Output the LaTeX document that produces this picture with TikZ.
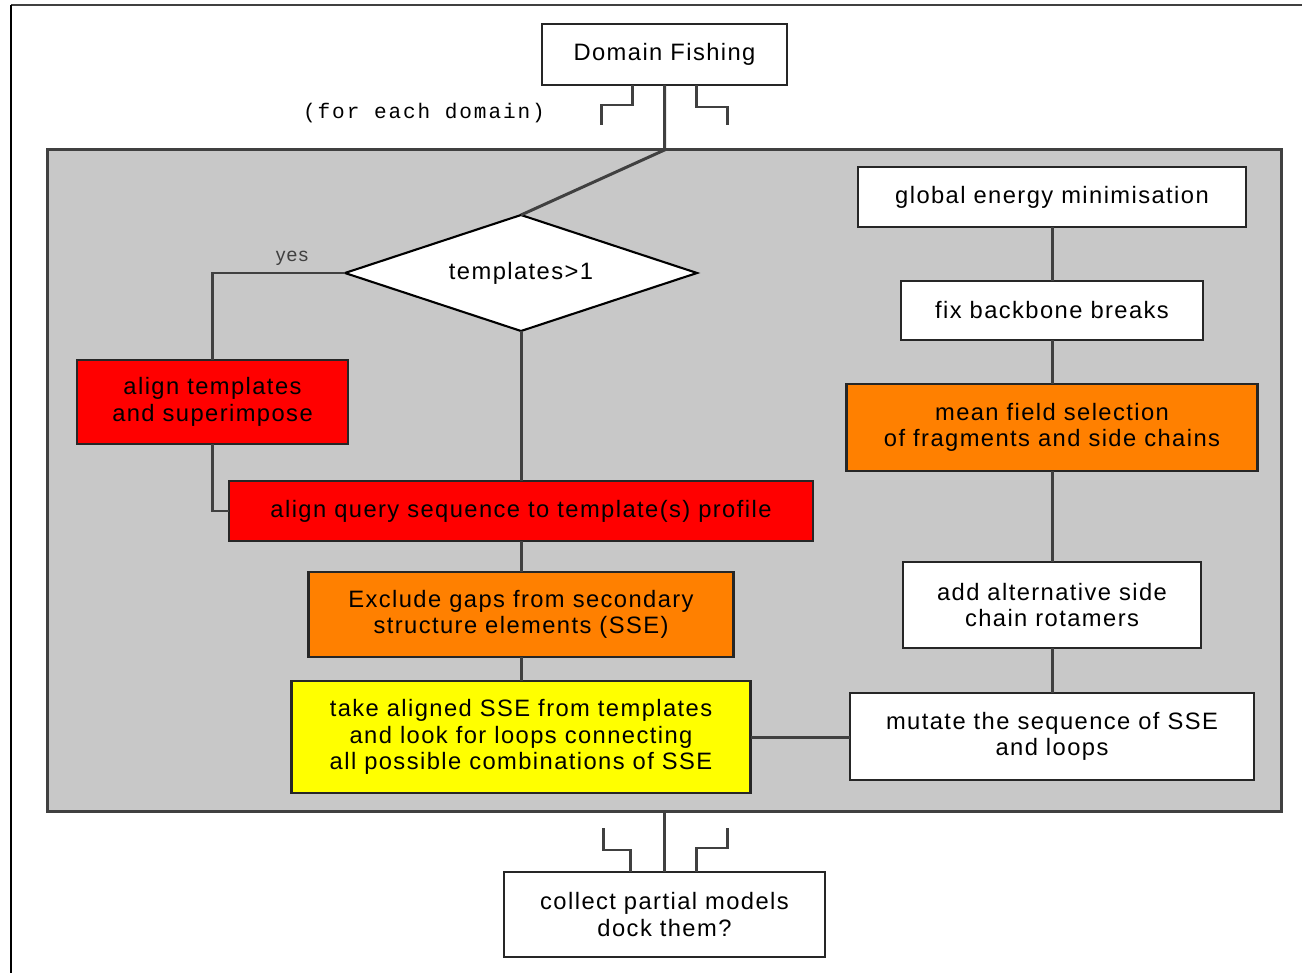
\documentclass[tikz,border=0pt]{standalone}
\usepackage{fontspec}
\setmainfont{Liberation Sans}[LetterSpace=6.0]
\newfontfamily\loopfont{Liberation Mono}[LetterSpace=9.0]
\usepackage{xcolor}
\usepackage{tikz}
\usetikzlibrary{shapes,positioning,calc}
\definecolor{panelgray}{RGB}{200,200,200}
\definecolor{linegray}{RGB}{64,64,64}
\definecolor{boxred}{RGB}{255,0,0}
\definecolor{boxorange}{RGB}{255,128,0}
\definecolor{boxyellow}{RGB}{255,255,0}
\newcommand\boxfont{\fontsize{13.5}{15}\selectfont}
\tikzset{
	stepbox/.style={rectangle, draw=black!85, line width=1.5pt, fill=white, align=center, inner sep=0pt, outer sep=0pt, font=\boxfont},
	link/.style={draw=linegray, line width=1.7pt},
	loopmark/.style={draw=linegray, line width=1.5pt},
}

\begin{document}
\begin{tikzpicture}[x=0.2mm, y=-0.2mm]
	\useasboundingbox (0,0) rectangle (1302,973);
	\draw[line width=1.7pt, draw=linegray] (11,5) -- (1302,5);
	\draw[line width=1.7pt] (11,5) -- (11,973);
	\node[rectangle, draw=linegray, fill=panelgray, line width=1.7pt, outer sep=0pt, minimum width=246.6mm, minimum height=132.2mm] (panel) at (664.5,480.5) {};
	\node[stepbox, minimum width=49mm, minimum height=12.2mm] (fishing) at (664.5,54.5) {Domain Fishing};
	\node[font=\loopfont\fontsize{12}{14}\selectfont] (each) at (424,113) {(for each domain)};
	\node[diamond, draw=black, fill=white, line width=1.2pt, aspect=3, inner sep=0pt, outer sep=0pt, minimum width=70.4mm, minimum height=23.2mm, font=\boxfont] (test) at (521,273) {templates>1};
	\node[stepbox, fill=boxred, minimum width=54.2mm, minimum height=16.8mm] (align) at (212.5,402) {align templates\\and superimpose};
	\node[stepbox, fill=boxred, minimum width=116.8mm, minimum height=12mm, below=30mm of test] (query) {align query sequence to template(s) profile};
	\node[stepbox, fill=boxorange, minimum width=85mm, minimum height=17mm, below=6.2mm of query] (exclude) {Exclude gaps from secondary\\structure elements (SSE)};
	\node[stepbox, fill=boxyellow, minimum width=91.8mm, minimum height=22.4mm, below=4.8mm of exclude] (take) {take aligned SSE from templates\\and look for loops connecting\\all possible combinations of SSE};
	\node[stepbox, minimum width=77.6mm, minimum height=12mm] (global) at (1052,197) {global energy minimisation};
	\node[stepbox, minimum width=60.4mm, minimum height=11.8mm, below=10.8mm of global] (backbone) {fix backbone breaks};
	\node[stepbox, fill=boxorange, minimum width=82.2mm, minimum height=17.4mm, below=8.8mm of backbone] (meanfield) {mean field selection\\of fragments and side chains};
	\node[stepbox, minimum width=59.6mm, minimum height=17.2mm, below=18.2mm of meanfield] (altside) {add alternative side\\chain rotamers};
	\node[stepbox, minimum width=80.8mm, minimum height=17.4mm, below=9mm of altside] (mutate) {mutate the sequence of SSE\\and loops};
	\node[stepbox, minimum width=64.2mm, minimum height=17mm] (collect) at (664.5,914.5) {collect partial models\\dock them?};
	\coordinate (entry) at (fishing.south |- panel.north);
	\coordinate (exit) at (collect.north |- panel.south);
	\draw[link] (fishing) -- (entry) -- (test.north);
	\draw[link] (test.west) -| node[pos=0.2, above, text=linegray, font=\fontsize{11}{12}\selectfont] {yes} (align.north);
	\draw[link] (align.south) |- (query.west);
	\draw[link] (test.south) -- (query.north);
	\draw[link] (query) -- (exclude);
	\draw[link] (exclude) -- (take);
	\draw[link] (take.east) -- (take.east -| mutate.west);
	\draw[link] (global) -- (backbone);
	\draw[link] (backbone) -- (meanfield);
	\draw[link] (meanfield) -- (altside);
	\draw[link] (altside) -- (mutate);
	\draw[link] (exit) -- (collect);
	\draw[loopmark] ($(fishing.south)+(-32,0)$) -- ++(0,20) -- ++(-31,0) -- ++(0,20);
	\draw[loopmark] ($(fishing.south)+(32,0)$) -- ++(0,22) -- ++(31,0) -- ++(0,18);
	\draw[loopmark] ($(collect.north)+(-34,0)$) -- ++(0,-22) -- ++(-27,0) -- ++(0,-22);
	\draw[loopmark] ($(collect.north)+(32,0)$) -- ++(0,-24) -- ++(31,0) -- ++(0,-20);
\end{tikzpicture}
\end{document}
